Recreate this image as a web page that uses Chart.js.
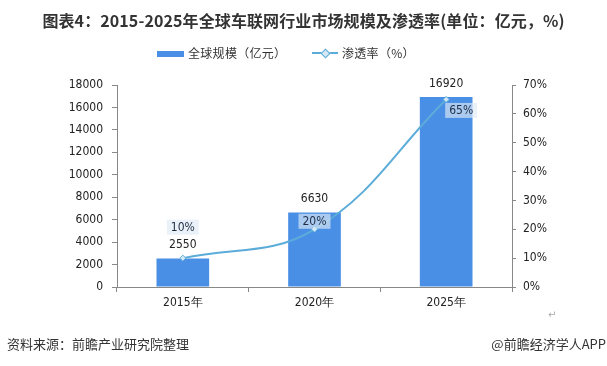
<!DOCTYPE html>
<html>
<head>
<meta charset="utf-8">
<script src="https://cdn.jsdelivr.net/npm/chart.js@4.4.0/dist/chart.umd.min.js"></script>
<style>
  body { margin: 0; width: 607px; height: 366px; background: #fff; position: relative; overflow: hidden; font-family: "Noto Sans CJK SC", sans-serif; color: #333; }
  #chartBox { position: absolute; left: 0; top: 0; width: 607px; height: 366px; }
  .title { position: absolute; top: 8px; left: 0; width: 607px; text-align: center; font-size: 16px; font-weight: bold; line-height: 24px; color: #333; letter-spacing: 0.1px; }
  .legend { position: absolute; top: 46px; font-size: 12px; line-height: 14px; color: #333; letter-spacing: 0.3px; }
  .swatch { position: absolute; }
  .foot { position: absolute; top: 336px; font-size: 13px; line-height: 16px; color: #333; }
  .enter { position: absolute; left: 548px; top: 309px; font-size: 10px; color: #aaa; font-family: "DejaVu Sans", sans-serif; }
</style>
</head>
<body>
<div id="chartBox"><canvas id="mainChart" width="607" height="366"></canvas></div>

<div class="title">图表4：2015-2025年全球车联网行业市场规模及渗透率(单位：亿元，%)</div>

<div class="swatch" style="left:157px;top:51px;width:27px;height:6px;background:#4a8fe6;"></div>
<div class="legend" style="left:188px;">全球规模（亿元）</div>
<div class="swatch" style="left:312px;top:52px;width:26px;height:2px;background:#5cacd9;"></div>
<div class="swatch" style="left:322px;top:50px;width:5px;height:5px;background:#d6e8f5;border:1px solid #5cacd9;transform:rotate(45deg);"></div>
<div class="legend" style="left:342px;">渗透率（%）</div>

<div class="enter">↵</div>
<div class="foot" style="left:7px;">资料来源：前瞻产业研究院整理</div>
<div class="foot" style="right:1px;">@前瞻经济学人APP</div>

<script>
// Chart data
const years = ['2015年', '2020年', '2025年'];
const marketSize = [2550, 6630, 16920];   // 亿元
const penetration = [10, 20, 65];         // %
const leftAxisMax = 18000;
const leftAxisStep = 2000;
const rightAxisMax = 70;
const rightAxisStep = 10;

// Style settings
const BAR_COLOR = '#4a8fe6';
const LINE_COLOR = '#5cacd9';
const AXIS_COLOR = '#888';
const TICK_FONT = { family: '"DejaVu Sans Condensed", "DejaVu Sans", sans-serif', size: 12 };
// where each penetration label box sits relative to its point (dx, dy)
const rateLabelOffset = [[0, -31], [0, -8], [15, 11]];

// Draw value labels on bars and line points
const valueLabels = {
  id: 'valueLabels',
  afterDatasetsDraw(chart) {
    const ctx = chart.ctx;
    ctx.save();
    ctx.font = '12px "DejaVu Sans Condensed", "DejaVu Sans", sans-serif';
    ctx.textAlign = 'center';
    ctx.textBaseline = 'middle';

    const barMeta = chart.getDatasetMeta(1);
    ctx.fillStyle = '#222';
    barMeta.data.forEach((bar, i) => {
      ctx.fillText(String(marketSize[i]), bar.x, bar.y - 13.5);
    });

    const lineMeta = chart.getDatasetMeta(0);
    lineMeta.data.forEach((pt, i) => {
      const [dx, dy] = rateLabelOffset[i];
      const x = pt.x + dx;
      const y = pt.y + dy;
      const text = penetration[i] + '%';
      const w = ctx.measureText(text).width + 8;
      const h = 15;
      ctx.fillStyle = 'rgba(222, 233, 245, 0.65)';
      ctx.fillRect(x - w / 2, y - h / 2, w, h);
      ctx.fillStyle = '#1f2d45';
      ctx.fillText(text, x, y + 0.5);
    });
    ctx.restore();
  }
};

const ctx = document.getElementById('mainChart').getContext('2d');
new Chart(ctx, {
  type: 'bar',
  data: {
    labels: years,
    datasets: [
      {
        type: 'line',
        label: '渗透率（%）',
        data: penetration,
        yAxisID: 'y1',
        borderColor: LINE_COLOR,
        borderWidth: 2,
        tension: 0.4,
        pointStyle: 'rectRot',
        pointRadius: 3,
        pointBackgroundColor: '#d6e8f5',
        pointBorderColor: LINE_COLOR,
        pointBorderWidth: 1,
        order: 0
      },
      {
        type: 'bar',
        label: '全球规模（亿元）',
        data: marketSize,
        yAxisID: 'y',
        backgroundColor: BAR_COLOR,
        barPercentage: 0.4,
        categoryPercentage: 1,
        order: 1
      }
    ]
  },
  options: {
    responsive: false,
    animation: false,
    layout: { padding: { top: 85, left: 0, right: 0, bottom: 0 } },
    plugins: {
      legend: { display: false },
      tooltip: { enabled: false }
    },
    scales: {
      x: {
        grid: { display: true, drawOnChartArea: false, drawTicks: true, tickLength: 5, color: AXIS_COLOR, offset: true },
        border: { display: true, color: AXIS_COLOR },
        ticks: { color: '#222', font: TICK_FONT, padding: 4 },
        afterFit(scale) { scale.height = 79; }
      },
      y: {
        position: 'left',
        min: 0,
        max: leftAxisMax,
        grid: { drawOnChartArea: false, drawTicks: true, tickLength: 5, color: AXIS_COLOR },
        border: { display: true, color: AXIS_COLOR },
        ticks: { stepSize: leftAxisStep, color: '#222', font: TICK_FONT, padding: 9, callback: v => String(v) },
        afterFit(scale) { scale.width = 117; }
      },
      y1: {
        position: 'right',
        min: 0,
        max: rightAxisMax,
        grid: { drawOnChartArea: false, drawTicks: true, tickLength: 4, color: AXIS_COLOR },
        border: { display: true, color: AXIS_COLOR },
        ticks: { stepSize: rightAxisStep, color: '#222', font: TICK_FONT, padding: 7, callback: v => v + '%' },
        afterFit(scale) { scale.width = 95; }
      }
    }
  },
  plugins: [valueLabels]
});
</script>
</body>
</html>
